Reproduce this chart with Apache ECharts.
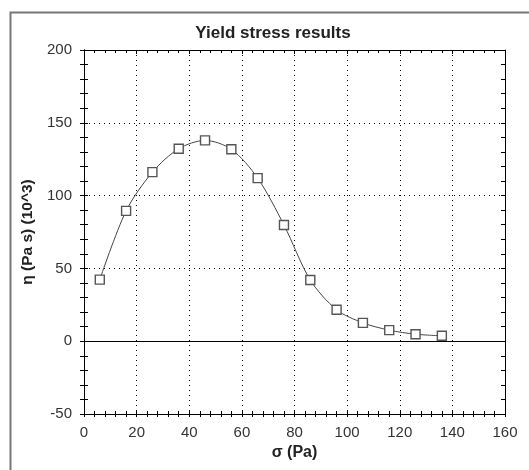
<!DOCTYPE html>
<html><head><meta charset="utf-8">
<script src="https://cdn.jsdelivr.net/npm/echarts@6/dist/echarts.min.js"></script>
<style>html,body{margin:0;padding:0;background:#fff}#c{width:529px;height:470px}</style>
</head><body><div id="c"></div>
<script>
const sigma = [6, 16, 26, 36, 46, 56, 66, 76, 86, 96, 106, 116, 126, 136];
const eta = [42.3, 89.5, 116.1, 132.2, 137.9, 131.8, 112, 79.8, 42, 21.6, 12.6, 7.6, 4.8, 3.7];
const titleText = 'Yield stress results';
const xName = 'σ (Pa)';
const yName = 'η (Pa s) (10^3)';

const font = 'Liberation Sans, Arial, sans-serif';
const chart = echarts.init(document.getElementById('c'));
const axisBase = {
  type: 'value',
  axisLine: {show: true, onZero: false, lineStyle: {color: '#000', width: 1}},
  splitLine: {show: false},
  minorSplitLine: {show: false}
};
chart.setOption({
  animation: false,
  title: {text: titleText, left: 268, textAlign: 'center', top: 20,
    textStyle: {fontFamily: font, fontSize: 17, fontWeight: 'bold', color: '#222'}},
  graphic: [{type: 'rect', left: 8, top: 10, shape: {x: 0, y: 0, width: 600, height: 600},
    style: {fill: 'none', stroke: '#777', lineWidth: 2}, silent: true, z: -1}],
  grid: {left: 84, right: 24, top: 50, bottom: 56},
  xAxis: [
    Object.assign({}, axisBase, {min: 0, max: 160, interval: 20, position: 'bottom',
      name: xName, nameLocation: 'middle', nameGap: 30,
      nameTextStyle: {fontFamily: font, fontSize: 16, fontWeight: 'bold', color: '#222'},
      axisLabel: {fontFamily: font, fontSize: 15, color: '#333', margin: 11},
      axisTick: {show: true, inside: true, length: 4, lineStyle: {color: '#000'}},
      minorTick: {show: true, splitNumber: 5, length: 3, lineStyle: {color: '#000'}},
      splitLine: {show: true, lineStyle: {color: '#000', type: [1, 4], width: 1}}}),
    Object.assign({}, axisBase, {min: 0, max: 160, interval: 20, position: 'bottom',
      axisLabel: {show: false},
      axisTick: {show: true, inside: false, length: 3, lineStyle: {color: '#000'}},
      minorTick: {show: true, splitNumber: 5, length: 3, lineStyle: {color: '#000'}}}),
    Object.assign({}, axisBase, {min: 0, max: 160, interval: 20, position: 'top',
      axisLabel: {show: false},
      axisTick: {show: true, inside: true, length: 4, lineStyle: {color: '#000'}},
      minorTick: {show: true, splitNumber: 5, length: 3, lineStyle: {color: '#000'}}})
  ],
  yAxis: [
    Object.assign({}, axisBase, {min: -50, max: 200, interval: 50, position: 'left',
      name: yName, nameLocation: 'middle', nameGap: 47, nameRotate: 90,
      nameTextStyle: {fontFamily: font, fontSize: 15.5, fontWeight: 'bold', color: '#222'},
      axisLabel: {fontFamily: font, fontSize: 15, color: '#333', margin: 12},
      axisTick: {show: true, inside: true, length: 4, lineStyle: {color: '#000'}},
      minorTick: {show: true, splitNumber: 5, length: 4, lineStyle: {color: '#000'}},
      splitLine: {show: true, lineStyle: {color: '#000', type: [1, 4], width: 1}}}),
    Object.assign({}, axisBase, {min: -50, max: 200, interval: 50, position: 'left',
      axisLabel: {show: false},
      axisTick: {show: true, inside: false, length: 4, lineStyle: {color: '#000'}},
      minorTick: {show: true, splitNumber: 5, length: 4, lineStyle: {color: '#000'}}}),
    Object.assign({}, axisBase, {min: -50, max: 200, interval: 50, position: 'right',
      axisLabel: {show: false},
      axisTick: {show: true, inside: true, length: 4, lineStyle: {color: '#000'}},
      minorTick: {show: true, splitNumber: 5, length: 4, lineStyle: {color: '#000'}}})
  ],
  series: [{
    type: 'line', xAxisIndex: 0, yAxisIndex: 0,
    data: sigma.map((s, i) => [s, eta[i]]),
    smooth: 0.3,
    symbol: 'rect', symbolSize: 9,
    lineStyle: {color: '#444', width: 1},
    itemStyle: {color: '#fff', borderColor: '#555', borderWidth: 1.4},
    markLine: {silent: true, symbol: 'none', label: {show: false},
      lineStyle: {color: '#000', type: 'solid', width: 1.2},
      data: [{yAxis: 0}]}
  }]
});
</script></body></html>
